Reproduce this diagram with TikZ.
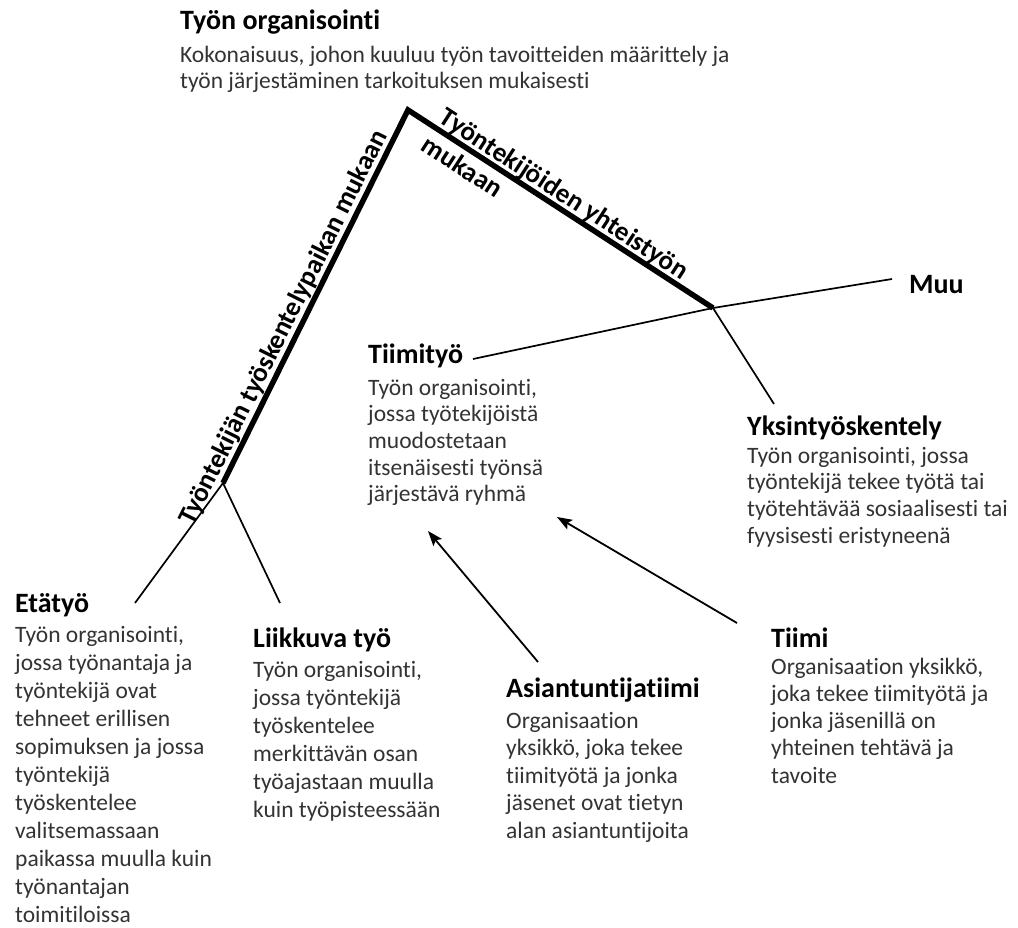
\documentclass[tikz,border=0pt]{standalone}
\usepackage{fontspec}
\setmainfont{Carlito}[Ligatures={NoCommon}]
\usetikzlibrary{arrows.meta}
\newcommand{\blines}[2]{\vtop{\baselineskip=#1pt\lineskiplimit=-100pt\lineskip=0pt #2}}
\tikzset{
  ttl/.style={font=\fontsize{28}{32}\selectfont\bfseries, text=black, inner sep=0pt, anchor=base west},
  bdy/.style={font=\fontsize{23.5}{28}\selectfont, text=black!80, inner sep=0pt, anchor=base west},
  lbl/.style={font=\fontsize{27}{31}\selectfont\bfseries, text=black, inner sep=0pt},
  thickln/.style={line width=5.5pt, line join=miter, line cap=butt},
  thinln/.style={line width=1.7pt},
  arr/.style={line width=1.8pt, -{Stealth[length=15pt, width=11pt, inset=3pt]}}
}
\begin{document}
\begin{tikzpicture}[x=1pt,y=-1pt]
\useasboundingbox (0,0) rectangle (1018,927);
\fill[white] (0,0) rectangle (1018,927);

% titles and bodies
\node[ttl] (orgT) at (180,29) {Työn organisointi};
\node[bdy] (orgB) at (180,62) {\blines{26.5}{\hbox{Kokonaisuus, johon kuuluu työn tavoitteiden määrittely ja}\hbox{työn järjestäminen tarkoituksen mukaisesti}}};

\node[ttl] (tiiT) at (368,363) {Tiimityö};
\node[bdy] (tiiB) at (368,395) {\blines{26.7}{\hbox{Työn organisointi,}\hbox{jossa työtekijöistä}\hbox{muodostetaan}\hbox{itsenäisesti työnsä}\hbox{järjestävä ryhmä}}};

\node[ttl] (muuT) at (909,293) {Muu};

\node[ttl] (yksT) at (747,435) {Yksintyöskentely};
\node[bdy] (yksB) at (747,463) {\blines{26.7}{\hbox{Työn organisointi, jossa}\hbox{työntekijä tekee työtä tai}\hbox{työtehtävää sosiaalisesti tai}\hbox{fyysisesti eristyneenä}}};

\node[ttl] (etaT) at (15,612) {Etätyö};
\node[bdy] (etaB) at (15,642) {\blines{28}{\hbox{Työn organisointi,}\hbox{jossa työnantaja ja}\hbox{työntekijä ovat}\hbox{tehneet erillisen}\hbox{sopimuksen ja jossa}\hbox{työntekijä}\hbox{työskentelee}\hbox{valitsemassaan}\hbox{paikassa muulla kuin}\hbox{työnantajan}\hbox{toimitiloissa}}};

\node[ttl] (liiT) at (253,647) {Liikkuva työ};
\node[bdy] (liiB) at (253,677) {\blines{28}{\hbox{Työn organisointi,}\hbox{jossa työntekijä}\hbox{työskentelee}\hbox{merkittävän osan}\hbox{työajastaan muulla}\hbox{kuin työpisteessään}}};

\node[ttl] (asiT) at (506,697) {Asiantuntijatiimi};
\node[bdy] (asiB) at (506,728) {\blines{27.5}{\hbox{Organisaation}\hbox{yksikkö, joka tekee}\hbox{tiimityötä ja jonka}\hbox{jäsenet ovat tietyn}\hbox{alan asiantuntijoita}}};

\node[ttl] (tmT) at (771,647) {Tiimi};
\node[bdy] (tmB) at (771,674) {\blines{27.3}{\hbox{Organisaation yksikkö,}\hbox{joka tekee tiimityötä ja}\hbox{jonka jäsenillä on}\hbox{yhteinen tehtävä ja}\hbox{tavoite}}};

% branch points and connector ends
\coordinate (apex) at (408,110);
\coordinate (jL) at (223,483);
\coordinate (jR) at (713,308);
\coordinate (etaEnd) at (135,603);
\coordinate (liiEnd) at (280,603);
\coordinate (tiiEnd) at (473,359);
\coordinate (muuEnd) at (892,279);
\coordinate (yksEnd) at (774,404);
\coordinate (asiStart) at (538,662);
\coordinate (asiTip) at (428,531);
\coordinate (tmStart) at (737,623);
\coordinate (tmTip) at (557,517);

% tree
\draw[thinln] (jL) -- (etaEnd);
\draw[thinln] (jL) -- (liiEnd);
\draw[thinln] (tiiEnd) -- (jR) -- (muuEnd);
\draw[thinln] (jR) -- (yksEnd);
\draw[thickln] (jL) -- (apex) -- (jR);

% arrows
\draw[arr] (asiStart) -- (asiTip);
\draw[arr] (tmStart) -- (tmTip);

% branch labels
\node[lbl, anchor=base, rotate=63.56] (lblL) at (290.5,331.0) {Työntekijän työskentelypaikan mukaan};
\node[lbl, anchor=base west, rotate=-33] (lblR) at (437.5,121.8) {\blines{33}{\hbox{Työntekijöiden yhteistyön}\hbox{mukaan}}};
\end{tikzpicture}
\end{document}
